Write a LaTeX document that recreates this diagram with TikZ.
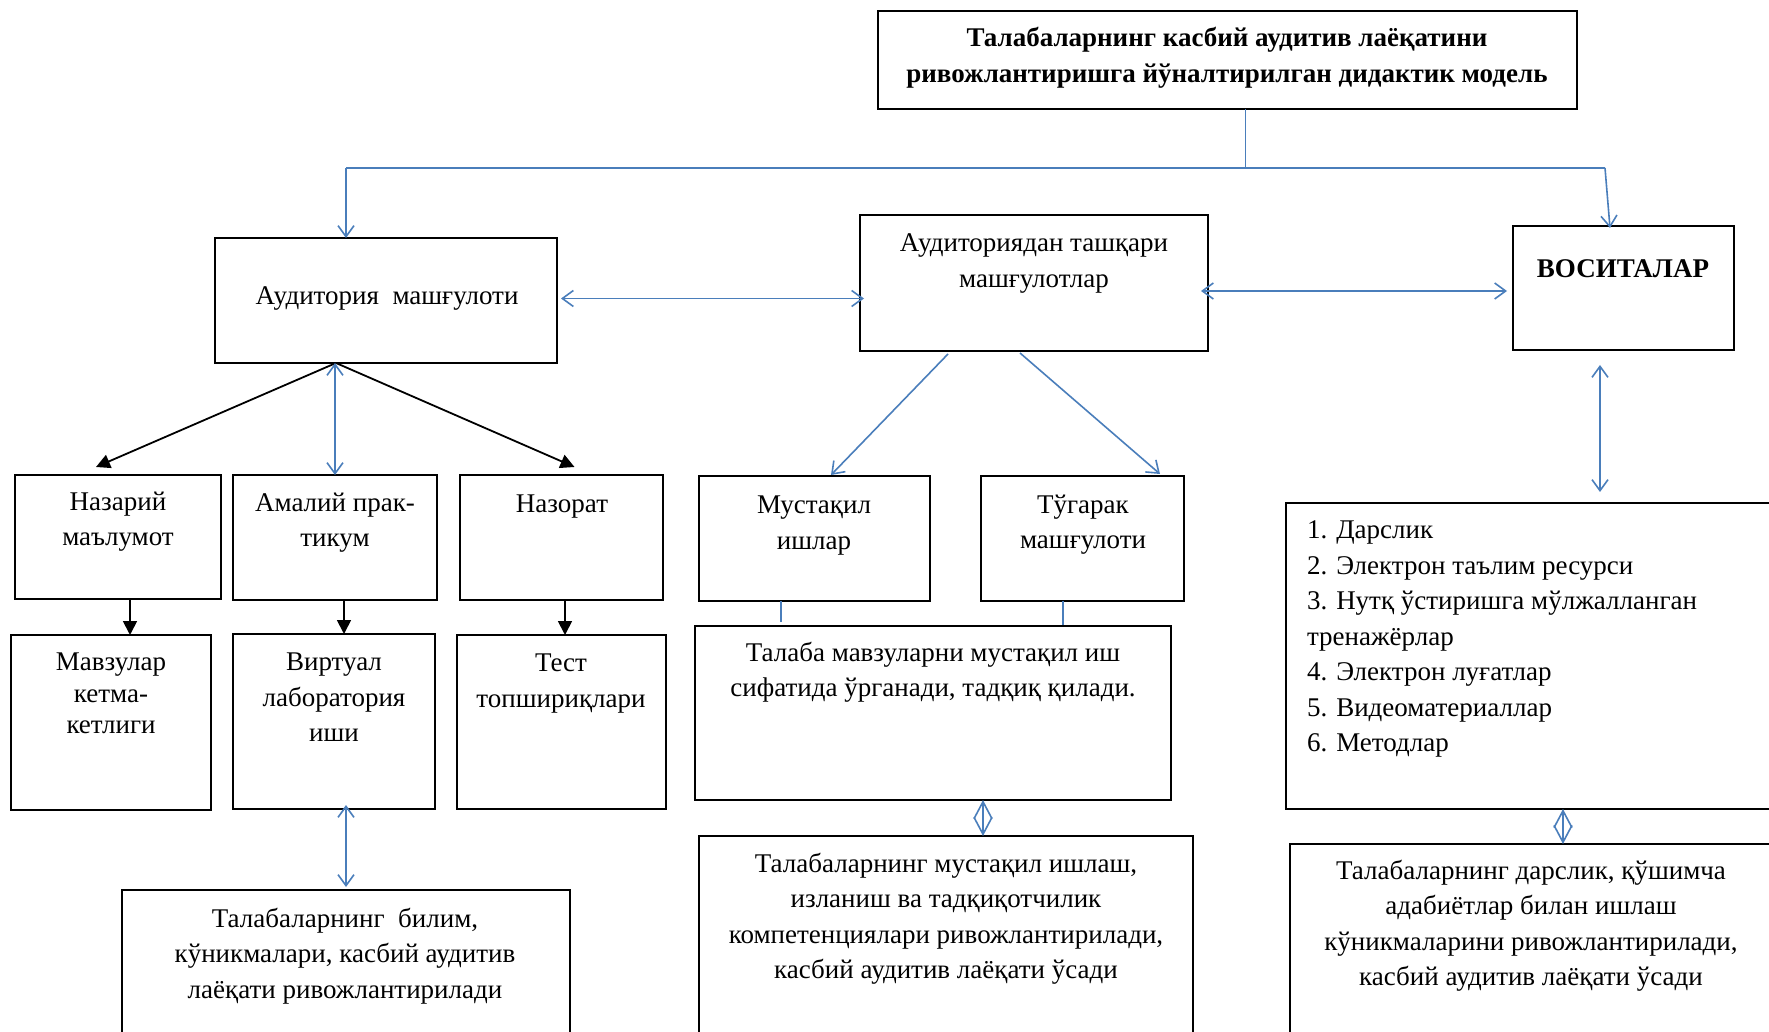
\documentclass[tikz,border=0pt]{standalone}
\usepackage{fontspec}
\setmainfont{Liberation Serif}
\usetikzlibrary{arrows.meta,fit,calc}
\definecolor{lblue}{RGB}{74,126,187}
\newcommand\fst{\rule{0pt}{12.4pt}}
\begin{document}
\begin{tikzpicture}[x=0.5pt,y=-0.5pt,
  box/.style={draw=black, line width=0.7pt, inner sep=0pt, outer sep=0pt},
  txt/.style={inner sep=0pt, outer sep=0pt, anchor=north, align=center,
    font=\fontsize{13.5}{17.75}\selectfont, execute at begin node=\fst},
  bl/.style={draw=lblue, line width=0.8pt},
  bar/.style={bl, -{Straight Barb[length=5.5pt,width=8pt]}},
  dbar/.style={bl, {Straight Barb[length=5.5pt,width=8pt]}-{Straight Barb[length=5.5pt,width=8pt]}},
  dia/.style={bl, {Straight Barb[length=8.5pt,width=9pt]}-{Straight Barb[length=8.5pt,width=9pt]}},
  blk/.style={draw=black, line width=0.9pt, -{Triangle[length=7pt,width=7pt]}},
]
\clip (0,0) rectangle (1769,1032);
\fill[white] (0,0) rectangle (1769,1032);

% boxes
\node[box, fit={(878,11)(1577,109)}] (top) {};
\node[box, fit={(215,238)(557,363)}] (aud) {};
\node[box, fit={(860,215)(1208,351)}] (tash) {};
\node[box, fit={(1513,226)(1734,350)}] (vos) {};
\node[box, fit={(15,475)(221,599)}] (naz) {};
\node[box, fit={(233,475)(437,600)}] (amal) {};
\node[box, fit={(460,475)(663,600)}] (nazorat) {};
\node[box, fit={(699,476)(930,601)}] (must) {};
\node[box, fit={(981,476)(1184,601)}] (tug) {};
\node[box, fit={(1286,503)(1800,809)}] (list) {};
\node[box, fit={(11,635)(211,810)}] (mavz) {};
\node[box, fit={(233,634)(435,809)}] (virt) {};
\node[box, fit={(457,635)(666,809)}] (test) {};
\node[box, fit={(695,626)(1171,800)}] (talaba) {};
\node[box, fit={(122,890)(570,1060)}] (res1) {};
\node[box, fit={(699,836)(1193,1060)}] (res2) {};
\node[box, fit={(1290,844)(1800,1060)}] (res3) {};

% texts
\node[txt, font=\bfseries\fontsize{13.5}{18}\selectfont] (top-t) at (1227,27)
  {Талабаларнинг касбий аудитив лаёқатини\\ривожлантиришга йўналтирилган дидактик модель};
\node[txt] (aud-t) at (387,280) {Аудитория\ \ машғулоти};
\node[txt] (tash-t) at (1034,234) {Аудиториядан ташқари\\машғулотлар};
\node[txt, font=\bfseries\fontsize{13.5}{17.75}\selectfont] (vos-t) at (1623,253) {ВОСИТАЛАР};
\node[txt] (naz-t) at (118,492) {Назарий\\маълумот};
\node[txt] (amal-t) at (335,493) {Амалий прак-\\тикум};
\node[txt] (nazorat-t) at (562,488) {Назорат};
\node[txt] (must-t) at (814,496) {Мустақил\\ишлар};
\node[txt] (tug-t) at (1083,495) {Тўгарак\\машғулоти};
\node[txt, anchor=north west, align=left] (list-t) at (1307,521)
  {1. Дарслик\\2. Электрон таълим ресурси\\3. Нутқ ўстиришга мўлжалланган\\тренажёрлар\\4. Электрон луғатлар\\5. Видеоматериаллар\\6. Методлар};
\node[txt, font=\fontsize{13.5}{15.8}\selectfont] (mavz-t) at (111,653) {Мавзулар\\кетма-\\кетлиги};
\node[txt] (virt-t) at (334,653) {Виртуал\\лаборатория\\иши};
\node[txt, font=\fontsize{13.5}{18}\selectfont] (test-t) at (561,654) {Тест\\топшириқлари};
\node[txt] (talaba-t) at (933,642) {Талаба мавзуларни мустақил иш\\сифатида ўрганади, тадқиқ қилади.};
\node[txt] (res1-t) at (345,908) {Талабаларнинг\ \ билим,\\кўникмалари, касбий аудитив\\лаёқати ривожлантирилади};
\node[txt] (res2-t) at (946,853) {Талабаларнинг мустақил ишлаш,\\изланиш ва тадқиқотчилик\\компетенциялари ривожлантирилади,\\касбий аудитив лаёқати ўсади};
\node[txt] (res3-t) at (1531,860) {Талабаларнинг дарслик, қўшимча\\адабиётлар билан ишлаш\\кўникмаларини ривожлантирилади,\\касбий аудитив лаёқати ўсади};

% top distribution
\coordinate (j) at ($(top.south)+(18,59)$);
\coordinate (jl) at (346,168);
\coordinate (jr) at (1605,168);
\coordinate (vt) at ($(vos.north west)+(97,2)$);
\draw[bl] (top.south -| j) -- (j);
\draw[bl] (jl) -- (jr);
\draw[bar] (jl) -- (jl |- aud.north);
\draw[bar] (jr) -- (vt);

% horizontal double arrows
\draw[dbar] ($(aud.east)+(4,-2)$) -- ($(tash.west |- aud.east)+(4,-2)$);
\draw[dbar] ($(tash.east)+(-7,8)$) -- ($(vos.west)+(-6,3)$);

% from aud
\coordinate (as) at ($(aud.south)+(-50,0)$);
\draw[blk] (as) -- ($(naz.north)+(-22,-8)$);
\draw[blk] (as) -- ($(nazorat.north)+(13,-8)$);
\draw[dbar] (aud.south -| amal.north) -- (amal.north);

% from tash
\draw[bar] ($(tash.south)+(-86,3)$) -- ($(must.north)+(16.5,-1)$);
\draw[bar] ($(tash.south)+(-14,2)$) -- ($(tug.north)+(77.5,-2)$);

% vos - list
\coordinate (vs) at ($(vos.south)+(-23.5,15)$);
\draw[dbar] (vs) -- ($(vs |- list.north)+(0,-11)$);

% short black arrows
\coordinate (n1) at ($(naz.south)+(12,0)$);
\draw[blk] (n1) -- (n1 |- mavz.north);
\coordinate (n2) at ($(amal.south)+(9,0)$);
\draw[blk] (n2) -- (n2 |- virt.north);
\coordinate (n3) at ($(nazorat.south)+(3.5,0)$);
\draw[blk] (n3) -- (n3 |- test.north);

% short blue lines
\coordinate (m1) at ($(must.south)+(-33.5,0)$);
\draw[bl] (m1) -- ($(m1 |- talaba.north)+(0,-4)$);
\coordinate (m2) at ($(tug.south)+(-19.5,0)$);
\draw[bl] (m2) -- ($(m2 |- talaba.north)+(0,-1)$);

% virt - res1
\draw[dbar] ($(res1.north |- virt.south)+(0,-4)$) -- ($(res1.north)+(0,-3)$);

% diamonds
\coordinate (d1) at ($(talaba.south)+(50,0)$);
\draw[dia] (d1) -- (d1 |- res2.north);
\coordinate (d2) at ($(list.south west)+(277,0)$);
\draw[dia] (d2) -- (d2 |- res3.north);
\end{tikzpicture}
\end{document}
